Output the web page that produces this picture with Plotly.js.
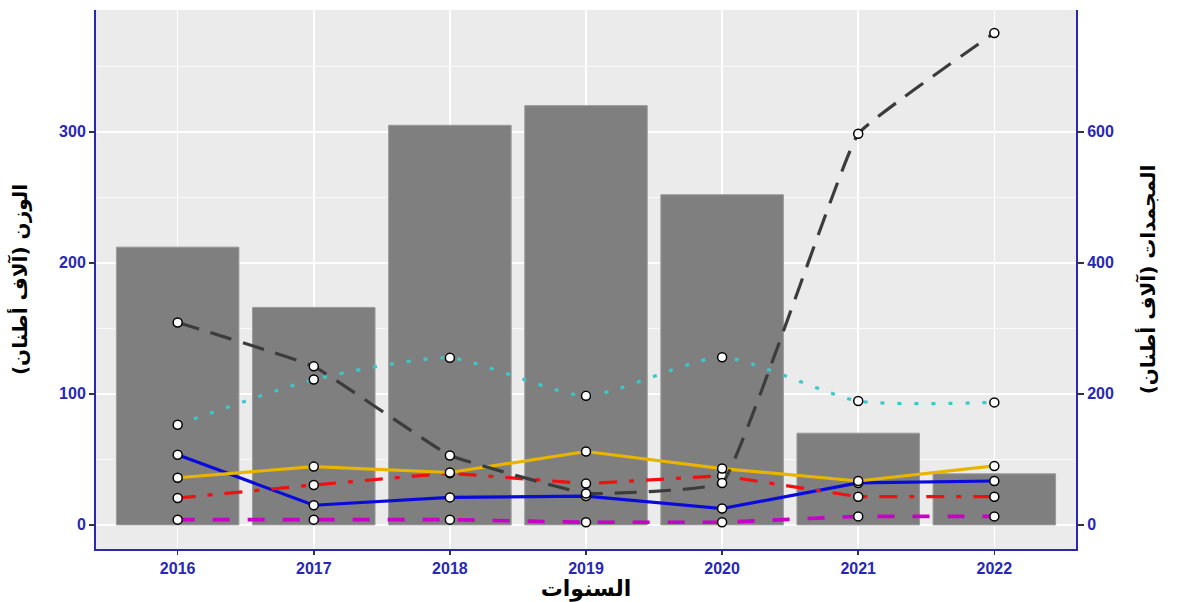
<!DOCTYPE html>
<html>
<head>
<meta charset="utf-8">
<script src="https://cdn.plot.ly/plotly-3.0.1.min.js"></script>
<style>html,body{margin:0;padding:0;background:#fff;}#chart{width:1177px;height:602px;}</style>
</head>
<body>
<div id="chart"></div>
<script>
// Years
const years = [2016, 2017, 2018, 2019, 2020, 2021, 2022];
// Bars: weight (thousand tons), left axis
const weightBars = [212, 166, 305, 320, 252, 70, 39];
// Lines: frozen products (thousand tons), right axis
const seriesBlackDash = [309, 242, 106, 48, 64, 597, 751];
const seriesCyanDot   = [153, 222, 255, 197, 256, 189, 187];
const seriesYellow    = [72, 89, 80, 112, 86, 67, 90];
const seriesRedDashDot= [41, 61, 79, 63, 75, 43, 43];
const seriesBlue      = [107, 30, 42, 44, 25, 64, 67];
const seriesMagenta   = [8, 8, 8, 4, 4, 13, 13];

const tickFont = {family: 'Liberation Sans, Arial, sans-serif', size: 16, color: '#2828b4', weight: 'bold'};
const titleFont = {family: 'DejaVu Sans, Noto Sans, sans-serif', size: 20, color: '#000', weight: 'bold'};
const mk = {size: 9, color: '#ffffff', line: {color: '#000000', width: 1.5}};

function lineTrace(y, color, dash, shape, smoothing, width) {
  return {
    x: years, y: y, type: 'scatter', mode: 'lines+markers', yaxis: 'y2',
    line: {color: color, width: width || 3.2, dash: dash, shape: shape || 'linear', smoothing: smoothing || 0.5},
    marker: mk, hoverinfo: 'x+y', showlegend: false
  };
}

const data = [
  {x: years, y: weightBars, type: 'bar', width: 0.9, marker: {color: '#7f7f7f', line: {color: '#9a9a9a', width: 1}}, showlegend: false},
  lineTrace(seriesMagenta, '#c800c8', '17px,18px', 'linear', 0, 3.6),
  lineTrace(seriesBlue, '#0a0adc', 'solid'),
  lineTrace(seriesRedDashDot, '#f01010', '18px,12px,5px,12px'),
  lineTrace(seriesYellow, '#e8b400', 'solid'),
  lineTrace(seriesCyanDot, '#3cc8c8', '4px,13px', 'spline', 0.6),
  lineTrace(seriesBlackDash, '#3c3c3c', '22px,12px', 'spline', 0.25)
];

const layout = {
  width: 1177, height: 602,
  margin: {l: 96, r: 101, t: 10, b: 53},
  paper_bgcolor: '#ffffff', plot_bgcolor: '#ebebeb',
  showlegend: false,
  bargap: 0.1,
  xaxis: {
    range: [2015.4, 2022.6], tickvals: years, ticktext: years.map(String),
    showgrid: true, gridcolor: '#ffffff', gridwidth: 1.5,
    zeroline: false, showline: true, linecolor: '#2828b4', linewidth: 2,
    ticks: 'outside', ticklen: 4, tickcolor: '#333333', tickwidth: 1.5,
    tickfont: tickFont,
    title: {text: 'السنوات', font: {family: 'DejaVu Sans, sans-serif', size: 22, color: '#000', weight: 'bold'}, standoff: 6}
  },
  yaxis: {
    range: [-18.4, 393], tickvals: [0, 100, 200, 300],
    showgrid: true, gridcolor: '#ffffff', gridwidth: 1.5,
    minor: {tickvals: [50, 150, 250, 350], showgrid: true, gridcolor: '#ffffff', gridwidth: 0.7, ticks: ''},
    zeroline: false, showline: true, linecolor: '#2828b4', linewidth: 2,
    ticks: 'outside', ticklen: 5, tickcolor: '#333333', tickwidth: 1.5,
    tickfont: tickFont,
    title: {text: 'الوزن (آلاف أطنان)', font: titleFont, standoff: 26}
  },
  yaxis2: {
    overlaying: 'y', side: 'right',
    range: [-36.8, 786], tickvals: [0, 200, 400, 600],
    showgrid: false, zeroline: false, showline: true, linecolor: '#2828b4', linewidth: 2,
    ticks: 'outside', ticklen: 6, tickcolor: '#333333', tickwidth: 1.5,
    tickfont: tickFont,
    title: {text: 'المجمدات (آلاف أطنان)', font: titleFont, standoff: 28}
  }
};

Plotly.newPlot('chart', data, layout, {displayModeBar: false, staticPlot: true});
</script>
</body>
</html>
